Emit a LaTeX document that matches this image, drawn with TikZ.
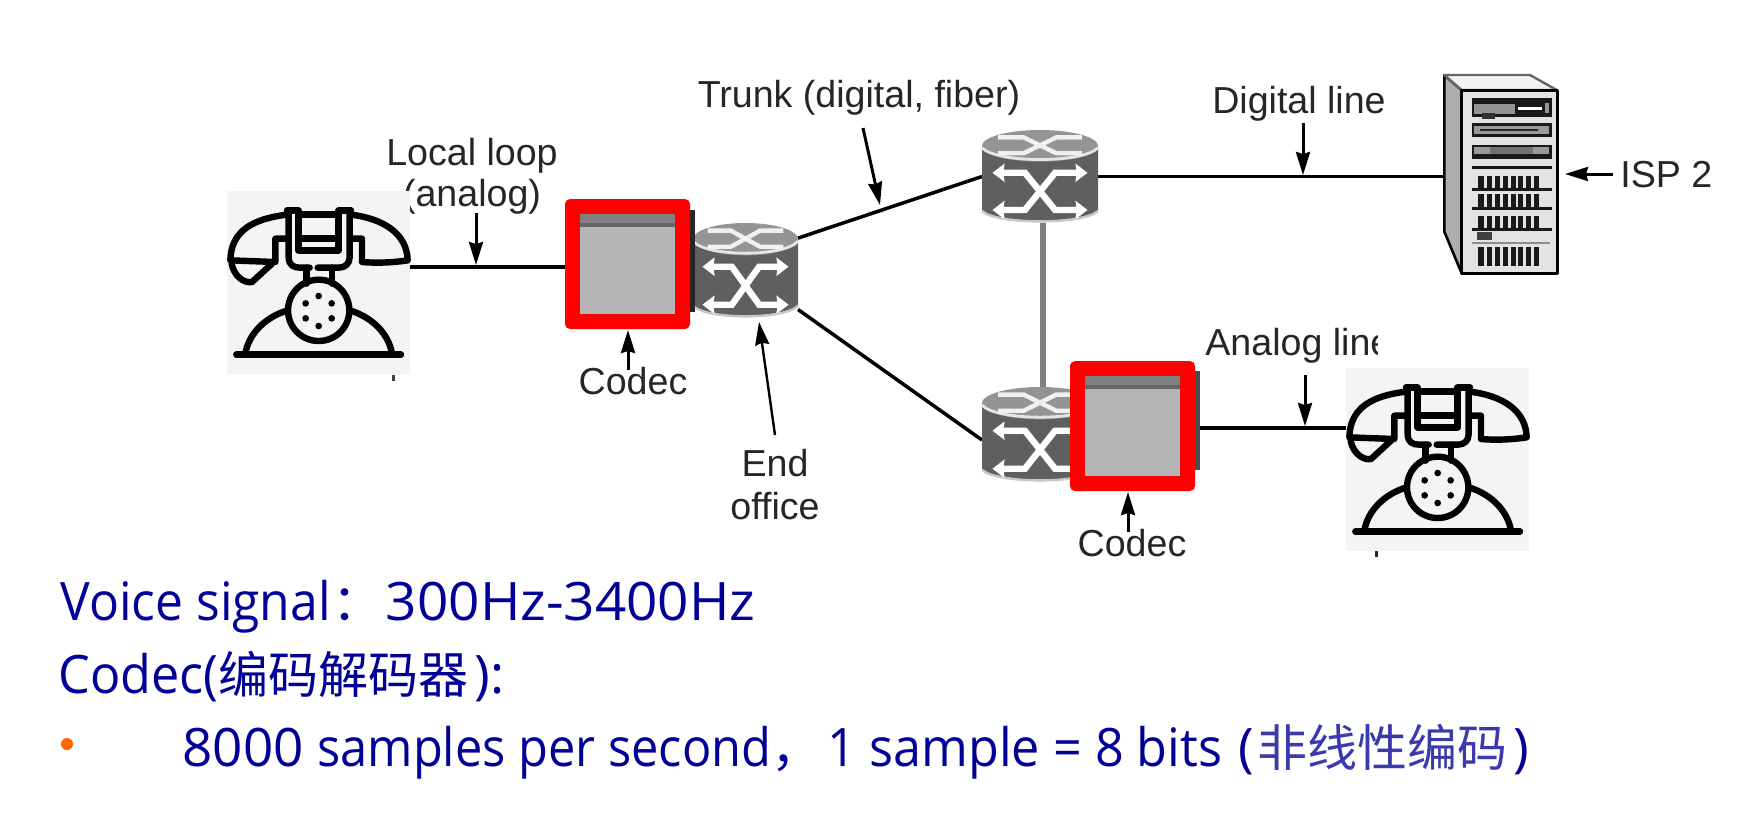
\documentclass[tikz,border=0pt]{standalone}
\usepackage{fontspec}
\setmainfont{Liberation Sans}
\newfontfamily\cjkfont{Noto Sans CJK SC}
\newfontfamily\slidefont{Open Sans}
\usetikzlibrary{arrows.meta}
\definecolor{slideblue}{HTML}{000099}
\definecolor{thinblue}{HTML}{3A3AAE}
\definecolor{labelink}{HTML}{262626}
\definecolor{bodygrey}{HTML}{5F5F5F}
\definecolor{bulletorange}{HTML}{FF6600}
\tikzset{
  box/.style 2 args={inner sep=0pt,outer sep=0pt,minimum width=#1*0.5pt,minimum height=#2*0.5pt},
  wire/.style={draw=black,line width=1.75pt},
  greywire/.style={draw=black!50,line width=2.6pt},
  pointer/.style={draw=black,line width=1.5pt,-{Stealth[length=11.5pt,width=7pt,inset=1pt]}},
  label/.style={font=\fontsize{18.8}{20.5}\selectfont,text=labelink,inner sep=0pt,align=center},
  slidetext/.style={font=\fontsize{26.5}{30}\slidefont,text=slideblue,inner sep=0pt,anchor=base west},
  phoneline/.style={draw=black,line width=3.2pt,line cap=round,line join=round},
}
\newcommand\zh[1]{{\fontsize{25}{30}\cjkfont #1}}
\newcommand\sx[2]{\scalebox{#1}[1]{#2}}
% telephone: coordinates are those of a 3x crop whose background square is (110,212)-(660,762)
\newcommand\phonepic[2]{%
\begin{scope}[shift={(#1-36.667,#2-70.667)},x=0.16667pt,y=-0.16667pt]
  \fill[black!4.5] (110,212) rectangle (660,762);
  \draw[phoneline] (290,283) .. controls (190,295) and (122,330) .. (120,420) -- (255,425) -- (255,355) -- (290,355);
  \draw[phoneline] (482,283) .. controls (580,295) and (650,340) .. (652,420) .. controls (600,428) and (550,428) .. (515,425) -- (515,355) -- (482,355);
  \draw[phoneline] (124,430) .. controls (130,465) and (160,490) .. (185,485) -- (245,430);
  \draw[phoneline] (295,270) -- (295,410) .. controls (295,435) and (310,442) .. (330,442) -- (358,442);
  \draw[phoneline] (382,442) -- (445,442) .. controls (465,442) and (478,430) .. (478,410) -- (478,270);
  \draw[phoneline] (290,270) -- (322,270) (448,270) -- (482,270);
  \draw[phoneline] (325,270) -- (325,390) -- (445,390) -- (445,270);
  \draw[phoneline] (325,282) -- (445,282) (325,355) -- (445,355);
  \draw[phoneline] (348,442) -- (348,490) (425,442) -- (425,490);
  \draw[phoneline] (385,570) circle [radius=92];
  \foreach \dx/\dy in {385/527,346/549,424/549,346/594,424/594,385/617}
    \fill (\dx,\dy) circle [radius=10];
  \draw[phoneline] (165,700) .. controls (175,640) and (225,590) .. (292,570);
  \draw[phoneline] (605,700) .. controls (595,640) and (545,590) .. (478,570);
  \draw[phoneline] (138,703) -- (632,703);
\end{scope}}
% switch: unit square, x to the right and y downwards
\newcommand\routerpic[4]{%
\begin{scope}[shift={(#1,#2)},x=#3*0.5pt,y=-#4*0.5pt]
  \fill[bodygrey] (0,.18) -- (0,.87) .. controls (.12,1.03) and (.88,1.03) .. (1,.87) -- (1,.18) -- cycle;
  \draw[black!22,line width=1.2pt] (0,.87) .. controls (.12,1.02) and (.88,1.02) .. (1,.87);
  \fill[black!42] (.5,.17) ellipse [x radius=.5,y radius=.17];
  \draw[black!10,line width=1.4pt] (0,.19) .. controls (.12,.36) and (.88,.36) .. (1,.19);
  \draw[black!6,line width=2.2pt] (.14,.08) -- (.36,.08) -- (.64,.25) -- (.86,.25) (.86,.08) -- (.64,.08) -- (.36,.25) -- (.14,.25);
  \draw[white,line width=3.2pt,{Stealth[length=6pt,width=9pt,inset=.6pt]}-{Stealth[length=6pt,width=9pt,inset=.6pt]}]
     (.09,.46) -- (.37,.46) -- (.63,.86) -- (.91,.86);
  \draw[white,line width=3.2pt,{Stealth[length=6pt,width=9pt,inset=.6pt]}-{Stealth[length=6pt,width=9pt,inset=.6pt]}]
     (.91,.46) -- (.63,.46) -- (.37,.86) -- (.09,.86);
\end{scope}}
\begin{document}
\begin{tikzpicture}[x=0.5pt,y=-0.5pt]
\useasboundingbox[fill=white] (0,0) rectangle (1758,816);
% layout boxes
\node[box={183}{183}] (phoneA) at (318.5,282.5) {};
\node[box={183}{183}] (phoneB) at (1437.5,459.5) {};
\node[box={105}{95}]  (sw1) at (745.5,270.5) {};
\node[box={116}{93}]  (sw2) at (1040,176.5) {};
\node[box={116}{95}]  (sw3) at (1040,434.5) {};
\node[box={113}{198}] (server) at (1500.5,174) {};
% points on the lines and free ends of the pointers
\coordinate (localTop) at (476,213);  \coordinate (localTip) at (476,265);
\coordinate (trunkTop) at (863,128);  \coordinate (trunkTip) at (880,205);
\coordinate (digitalTop) at (1303,123); \coordinate (digitalTip) at (1303,175);
\coordinate (analogTop) at (1305,375);  \coordinate (analogTip) at (1305,426);
\coordinate (codecAfoot) at (628,370); \coordinate (codecAtip) at (628,330);
\coordinate (codecBfoot) at (1128,532); \coordinate (codecBtip) at (1128,492);
\coordinate (officeFoot) at (775,435); \coordinate (officeTip) at (759,322);
\coordinate (ispFoot) at (1613,174); \coordinate (ispTip) at (1565,174);
% connectors
\draw[wire] ([yshift=7.75pt]phoneA.east) -- (565,267) coordinate (loopEnd);
\draw[wire] ([yshift=16.2pt]sw1.east) -- (sw2.west);
\draw[wire] ([yshift=-19.5pt]sw1.east) -- ([yshift=-2.75pt]sw3.west);
\draw[greywire] ([xshift=1.5pt]sw2.south) -- ([xshift=1.5pt]sw3.north);
\draw[wire] (sw2.east) -- (server.west |- sw2.east);
\draw[wire] (1195,428) coordinate (analogStart) -- ([yshift=15.75pt]phoneB.west);
% labels
\node[label] (lblLocal) at (472,176) {Local loop\\(analog)};
\node[label,anchor=base] (lblTrunk) at (859,107) {Trunk (digital, fiber)};
\node[label,anchor=base] (lblDigital) at (1299,113) {Digital line};
\node[label,anchor=base] (lblCodecA) at (633,394) {Codec};
\node[label,anchor=base] (lblCodecB) at (1132,556) {Codec};
\node[label,font=\fontsize{18.8}{21.5}\selectfont] (lblOffice) at (775,485) {End\\office};
\node[label,anchor=base west] (lblIsp) at (1620,187) {ISP 2};
\begin{scope}
  \clip (1190,320) rectangle (1377,368);
  \node[label,anchor=base west] (lblAnalog) at (1205,355) {Analog line};
\end{scope}
% pointers
\draw[pointer] (localTop) -- (localTip);
\draw[pointer] (trunkTop) -- (trunkTip);
\draw[pointer] (digitalTop) -- (digitalTip);
\draw[pointer] (analogTop) -- (analogTip);
\draw[pointer] (codecAfoot) -- (codecAtip);
\draw[pointer] (codecBfoot) -- (codecBtip);
\draw[pointer,line width=1.2pt] (officeFoot) -- (officeTip);
\draw[pointer] (ispFoot) -- (ispTip);
% telephones and their stray marks
\phonepic{227}{191}
\phonepic{1346}{368}
\fill[black!75] (392,375) rectangle (395,381);
\fill[black!85] (1375,551) rectangle (1378,557);
% switches
\routerpic{693}{223}{105}{95}
\routerpic{982}{130}{116}{93}
\routerpic{982}{387}{116}{95}
% codecs
\fill[black!85] (690,210) rectangle (695,312);
\fill[black!70] (1195,371) rectangle (1200,470);
\node[box={125}{130},fill=red,rounded corners=2.5pt] (codecA) at (627.5,264) {};
\node[box={95}{100},fill=black!29] (codecAbody) at (627.5,264) {};
\fill[black!50] (codecAbody.north west) rectangle ([yshift=-6.5pt]codecAbody.north east);
\fill[black!60] ([yshift=-4.5pt]codecAbody.north west) rectangle ([yshift=-6.5pt]codecAbody.north east);
\node[box={125}{130},fill=red,rounded corners=2.5pt] (codecB) at (1132.5,426) {};
\node[box={95}{100},fill=black!29] (codecBbody) at (1132.5,426) {};
\fill[black!50] (codecBbody.north west) rectangle ([yshift=-6.5pt]codecBbody.north east);
\fill[black!60] ([yshift=-4.5pt]codecBbody.north west) rectangle ([yshift=-6.5pt]codecBbody.north east);
% server, drawn in the coordinates of a 3x crop from (1400,60)
\begin{scope}[shift={(1400,60)},x=0.16667pt,y=-0.16667pt]
  \fill[black!32,draw=black,line width=1.3pt,line join=round] (133,45) -- (185,90) -- (185,640) -- (133,515) -- cycle;
  \fill[black!5,draw=black!60,line width=1.2pt,line join=round] (133,45) -- (390,45) -- (470,90) -- (185,90) -- cycle;
  \fill[black!11,draw=black,line width=1.5pt,line join=round] (185,90) rectangle (472,640);
  \fill[black!90] (215,115) rectangle (455,170);
  \fill[black!42] (222,132) rectangle (345,162);
  \fill[white] (355,140) rectangle (425,150);
  \fill[black!42] (435,130) rectangle (448,160);
  \fill[black!80] (245,160) rectangle (285,178);
  \fill[black!90] (215,190) rectangle (455,232);
  \fill[black!40] (222,197) rectangle (448,222);
  \fill[black!85] (240,208) rectangle (415,214);
  \fill[black!90] (215,255) rectangle (455,297);
  \fill[black!40] (222,262) rectangle (448,282);
  \fill[black!55] (270,262) rectangle (400,282);
  \foreach \ly in {322,388,445,508}
    \fill[black!90] (215,\ly-3.5) rectangle (455,\ly+3.5);
  \foreach \ry/\rb in {348/385,402/442,467/505,562/618}
    \foreach \bx in {243,268,292,316,340,362,386,410}
      \fill[black!90] (\bx-8,\ry) rectangle (\bx+8,\rb);
  \fill[black!75] (232,516) rectangle (275,540);
  \fill[black!45] (215,545) rectangle (450,552);
\end{scope}
% slide text
\node[slidetext] (line1) at (60,620) {\sx{.94}{Voice signal}\hspace{1pt}\zh{：}\hspace{1.5pt}\sx{1.035}{300Hz-3400Hz}};
\node[slidetext] (line2) at (58,693) {\sx{.95}{Codec(}\zh{编码解码器}\hspace{3pt}):};
\fill[bulletorange] (67,744) circle [radius=6] coordinate (bullet);
\node[slidetext] (line3) at (182,766) {8000 \sx{.92}{samples per second}\zh{，}\hspace{3pt}\sx{.95}{1 sample = 8 bits}\hspace{1pt} (\hspace{2pt}{\fontsize{25}{30}\cjkfont\color{thinblue}非线性编码}\hspace{3pt})};
\end{tikzpicture}
\end{document}
